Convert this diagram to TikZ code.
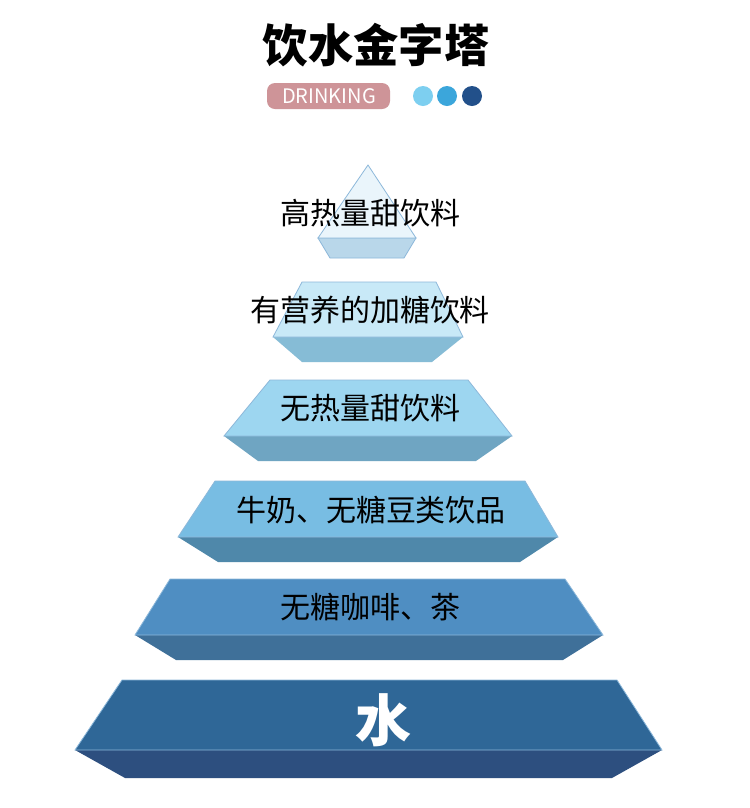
\documentclass[tikz,border=0pt]{standalone}
\usepackage{fontspec}
\newfontfamily\cjk{Noto Sans CJK SC}
\begin{document}
\begin{tikzpicture}[x=0.75pt,y=-0.75pt,
  lab/.style={font=\cjk\fontsize{22.5}{23}\selectfont,text=black,inner sep=0pt}]
\useasboundingbox (0,0) rectangle (750,808);
\fill[white] (0,0) rectangle (750,808);
\definecolor{pill}{RGB}{206,148,152}
\definecolor{d1}{RGB}{125,207,240}
\definecolor{d2}{RGB}{59,166,219}
\definecolor{d3}{RGB}{34,80,138}
\definecolor{t1a}{HTML}{2F6797}\definecolor{t1b}{HTML}{2D4F7F}
\definecolor{t2a}{HTML}{4F8EC2}\definecolor{t2b}{HTML}{3F7099}
\definecolor{t3a}{HTML}{78BDE3}\definecolor{t3b}{HTML}{4F88AA}
\definecolor{t4a}{HTML}{9DD6F0}\definecolor{t4b}{HTML}{6FA5C2}
\definecolor{t5a}{HTML}{C8E9F7}\definecolor{t5b}{HTML}{86BCD6}
\definecolor{t6a}{HTML}{EAF5FB}\definecolor{t6b}{HTML}{B9D7EA}
\definecolor{ol}{HTML}{8DB8DA}
\node[font=\cjk\bfseries\fontsize{34}{36}\selectfont,inner sep=0pt] (title) at (376,45) {饮水金字塔};
\fill[pill,rounded corners=6pt] (267,83) rectangle (390,109);
\node[font=\cjk\fontsize{15}{16}\selectfont,text=white,inner sep=0pt] (drink) at (329,96) {DRINKING};
\fill[d1] (423,96) circle (10);
\fill[d2] (447,96) circle (10);
\fill[d3] (472,96) circle (10);
% tier 1
\fill[t1b] (75,750) -- (662,750) -- (612,778) -- (125,778) -- cycle;
\filldraw[fill=t1a,draw=ol,line width=0.6pt] (122,680) -- (617,680) -- (662,750) -- (75,750) -- cycle;
% tier 2
\fill[t2b] (135,635) -- (603,635) -- (563,660) -- (176,660) -- cycle;
\filldraw[fill=t2a,draw=ol,line width=0.6pt] (170,579) -- (565,579) -- (603,635) -- (135,635) -- cycle;
% tier 3
\fill[t3b] (178,537) -- (558,537) -- (520,562) -- (218,562) -- cycle;
\filldraw[fill=t3a,draw=ol,line width=0.6pt] (215,481) -- (525,481) -- (558,537) -- (178,537) -- cycle;
% tier 4
\fill[t4b] (224,436) -- (512,436) -- (476,461) -- (258,461) -- cycle;
\filldraw[fill=t4a,draw=ol,line width=0.6pt] (270,380) -- (468,380) -- (512,436) -- (224,436) -- cycle;
% tier 5
\fill[t5b] (273,337) -- (463,337) -- (432,362) -- (302,362) -- cycle;
\filldraw[fill=t5a,draw=ol,line width=0.6pt] (302,282) -- (436,282) -- (463,337) -- (273,337) -- cycle;
% tier 6
\filldraw[fill=t6b,draw=ol,line width=0.6pt] (318,238) -- (416,238) -- (404,258) -- (330,258) -- cycle;
\filldraw[fill=t6a,draw=ol,line width=0.6pt] (368,165) -- (416,238) -- (318,238) -- cycle;
% labels
\node[lab] (l6) at (370,213) {高热量甜饮料};
\node[lab] (l5) at (370,310) {有营养的加糖饮料};
\node[lab] (l4) at (370,408) {无热量甜饮料};
\node[lab] (l3) at (371,510) {牛奶、无糖豆类饮品};
\node[lab] (l2) at (370,607) {无糖咖啡、茶};
\node[font=\cjk\bfseries\fontsize{42}{44}\selectfont,text=white,inner sep=0pt] (l1) at (383,720) {水};
\end{tikzpicture}
\end{document}
